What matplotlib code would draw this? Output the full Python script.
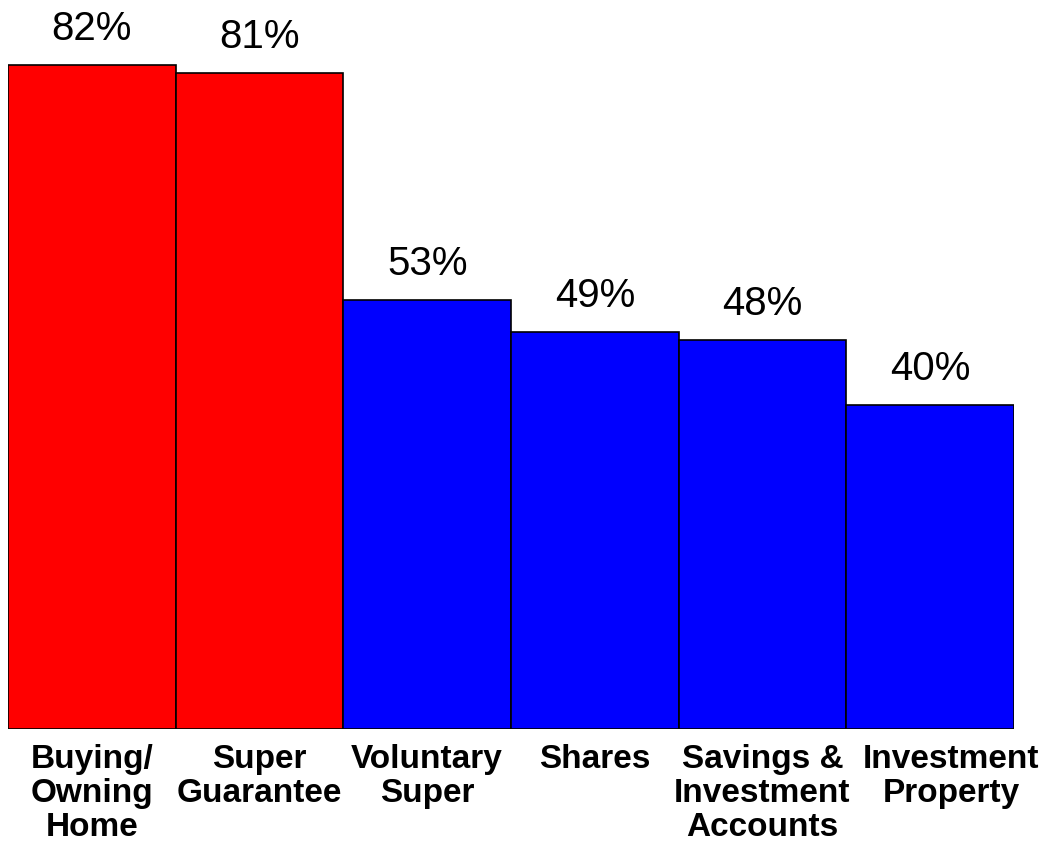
import matplotlib
matplotlib.use("Agg")
import matplotlib.pyplot as plt

# data
categories = ["Buying/\nOwning\nHome", "Super\nGuarantee", "Voluntary\nSuper",
              "Shares", "Savings &\nInvestment\nAccounts", "Investment\nProperty"]
values = [82, 81, 53, 49, 48, 40]
colors = ["#FF0000", "#FF0000", "#0000FF", "#0000FF", "#0000FF", "#0000FF"]

plt.rcParams['font.family'] = ['Liberation Sans', 'DejaVu Sans']

fig = plt.figure(figsize=(10.54, 8.51), dpi=100)
ax = fig.add_axes([8/1054, 122/851, 1006/1054, 729/851])

x = range(len(values))
ax.bar(x, values, width=1.0, color=colors, edgecolor="black", linewidth=1.2)

for i, v in enumerate(values):
    ax.annotate(f"{v}%", xy=(i, v), xytext=(0, 18), textcoords="offset points",
                ha="center", va="baseline", fontsize=29)

# category labels under the bars (last one nudged right like the original)
label_shift = [0, 0, 0, 0, 0, 0.125]
for i, lab in enumerate(categories):
    ax.annotate(lab, xy=(i + label_shift[i], 0), xytext=(0, -11),
                textcoords="offset points", ha="center", va="top",
                fontsize=24, fontweight="bold", linespacing=1.12)

ax.set_xlim(-0.5, len(values) - 0.5)
ax.set_ylim(0, 90)
ax.set_xticks([])
ax.set_yticks([])
for s in ax.spines.values():
    s.set_visible(False)

fig.savefig("out.png", dpi=100)
